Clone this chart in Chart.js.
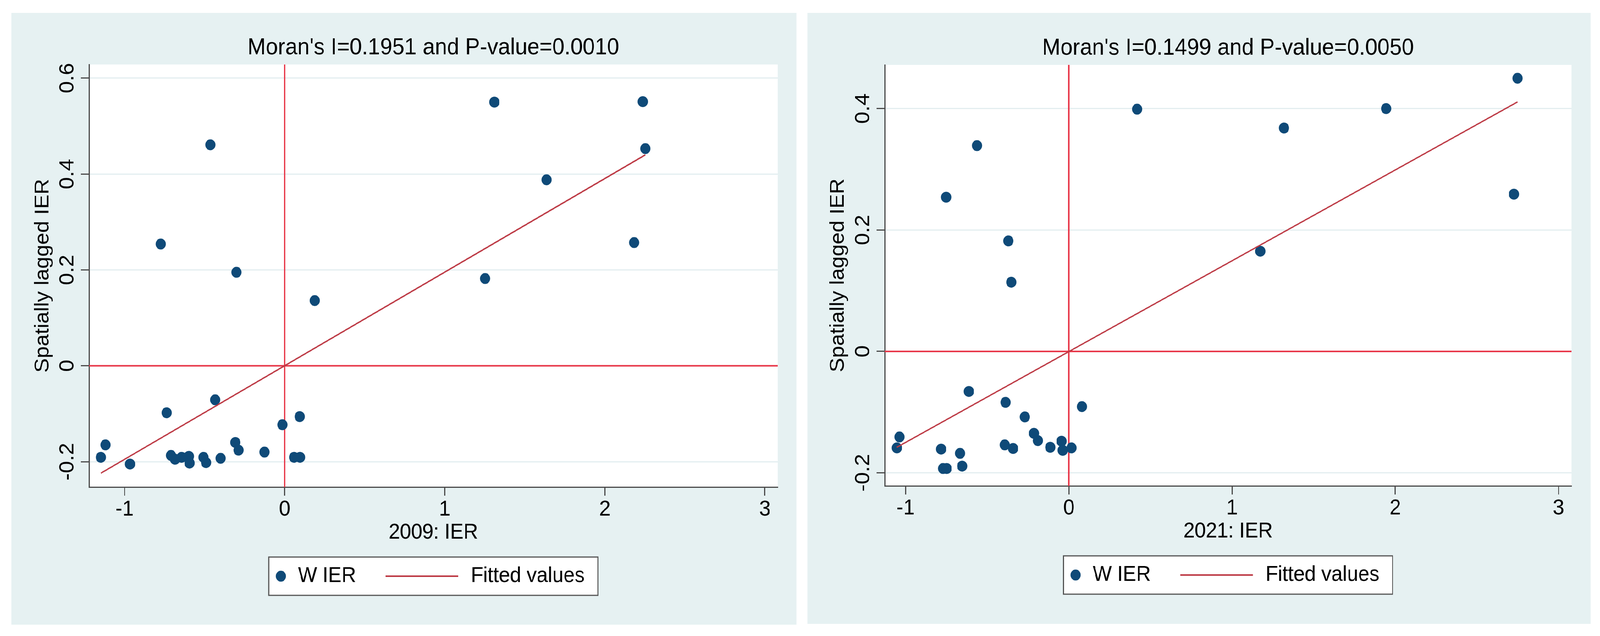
<!DOCTYPE html>
<html>
<head>
<meta charset="utf-8">
<script src="https://cdn.jsdelivr.net/npm/chart.js@4.4.1/dist/chart.umd.min.js"></script>
<style>
html,body{margin:0;padding:0;background:#ffffff;overflow:hidden;}
#wrap{position:absolute;left:0;top:0;width:4386px;height:1627px;transform-origin:0 0;background:#ffffff;}
.panel{position:absolute;background:#E6F1F2;}
#p1{left:31px;top:33px;width:2152px;height:1565px;}
#p2{left:2213px;top:33px;width:2147px;height:1563px;}
canvas{display:block;}
</style>
</head>
<body>
<div id="wrap">
<div class="panel" id="p1"><canvas id="c1"></canvas></div>
<div class="panel" id="p2"><canvas id="c2"></canvas></div>
</div>
<script>
// ---------- data: 2009 ----------
const ier2009 = [-1.148, -1.119, -0.966, -0.774, -0.737, -0.710, -0.685, -0.644, -0.598, -0.594,
                 -0.507, -0.491, -0.464, -0.434, -0.400, -0.308, -0.301, -0.288, -0.126, -0.014,
                  0.059,  0.096,  0.094,  0.188,  1.252,  1.310,  1.636,  2.183,  2.237,  2.253];
const wier2009 = [-0.191, -0.165, -0.205,  0.254, -0.098, -0.187, -0.195, -0.191, -0.189, -0.203,
                  -0.191, -0.202,  0.461, -0.071, -0.193, -0.160,  0.195, -0.176, -0.180, -0.123,
                  -0.191, -0.191, -0.106,  0.136,  0.182,  0.550,  0.388,  0.257,  0.551,  0.453];
const fitX2009 = [-1.148, 2.253];
const fitY2009 = [-0.224, 0.440];

// ---------- data: 2021 ----------
const ier2021 = [-1.054, -1.038, -0.783, -0.771, -0.749, -0.752, -0.667, -0.654, -0.613, -0.563,
                 -0.393, -0.388, -0.371, -0.353, -0.342, -0.270, -0.214, -0.190, -0.114, -0.045,
                 -0.038,  0.016,  0.080,  0.418,  1.173,  1.318,  1.944,  2.727,  2.749];
const wier2021 = [-0.159, -0.141, -0.161, -0.193, -0.193,  0.254, -0.168, -0.189, -0.066,  0.339,
                  -0.154, -0.084,  0.182,  0.114, -0.160, -0.108, -0.135, -0.147, -0.158, -0.148,
                  -0.163, -0.159, -0.091,  0.399,  0.165,  0.368,  0.400,  0.259,  0.450];
const fitX2021 = [-1.054, 2.749];
const fitY2021 = [-0.158, 0.411];

// ---------- ticks / text ----------
const xTicks = [-1, 0, 1, 2, 3];
const xTickLabels = ['-1', '0', '1', '2', '3'];
const yTicks2009 = [-0.2, 0, 0.2, 0.4, 0.6];
const yTickLabels2009 = ['-0.2', '0', '0.2', '0.4', '0.6'];
const yTicks2021 = [-0.2, 0, 0.2, 0.4];
const yTickLabels2021 = ['-0.2', '0', '0.2', '0.4'];
const title2009 = "Moran's I=0.1951 and P-value=0.0010";
const title2021 = "Moran's I=0.1499 and P-value=0.0050";
const xTitle2009 = '2009: IER';
const xTitle2021 = '2021: IER';
const yTitle = 'Spatially lagged IER';
const legendLabels = ['W IER', 'Fitted values'];

// ---------- styles ----------
const FONT = "'Liberation Sans', Arial, Helvetica, sans-serif";
const NAVY = '#0F4A78';
const MAROON = '#BD3A45';
const REFRED = '#E8384A';
const AXIS = '#4A4A4A';
const GRID = '#E3EEF0';

// fit the 4386x1627 design into whatever viewport is actually used
(function fitPage() {
  const vw = window.innerWidth || 4386;
  const vh = window.innerHeight || 1627;
  const sx = vw / 4386, sy = vh / 1627;
  document.getElementById('wrap').style.transform = 'scale(' + sx + ',' + sy + ')';
})();

const stataPlugin = {
  id: 'stata',
  beforeDraw(chart) {
    const {ctx, chartArea: a} = chart;
    ctx.save();
    ctx.fillStyle = '#ffffff';
    ctx.fillRect(a.left, a.top, a.right - a.left, a.bottom - a.top);
    ctx.restore();
  },
  beforeDatasetsDraw(chart) {
    const {ctx, chartArea: a, scales} = chart;
    const x0 = scales.x.getPixelForValue(0);
    const y0 = scales.y.getPixelForValue(0);
    ctx.save();
    ctx.strokeStyle = REFRED;
    ctx.lineWidth = 4;
    ctx.beginPath();
    ctx.moveTo(x0, a.top); ctx.lineTo(x0, a.bottom);
    ctx.moveTo(a.left, y0); ctx.lineTo(a.right, y0);
    ctx.stroke();
    ctx.restore();
  },
  afterDraw(chart, args, opts) {
    const {ctx, chartArea: a, scales} = chart;
    ctx.save();
    ctx.fillStyle = '#000';
    // title
    ctx.font = '60px ' + FONT;
    ctx.textAlign = 'center';
    ctx.textBaseline = 'middle';
    const cx = (a.left + a.right) / 2;
    ctx.fillText(opts.title, cx, a.top - 43);
    // rotated y tick labels
    ctx.font = '56px ' + FONT;
    const ys = scales.y;
    ys.ticks.forEach((t, i) => {
      const py = ys.getPixelForValue(t.value);
      ctx.save();
      ctx.translate(a.left - 43, py);
      ctx.rotate(-Math.PI / 2);
      ctx.textAlign = 'center';
      ctx.textBaseline = 'alphabetic';
      ctx.fillText(opts.yLabels[i], 0, 0);
      ctx.restore();
    });
    // legend
    const bw = 902, bh = 98;
    const bx = cx - bw / 2, by = a.bottom + 179;
    ctx.fillStyle = '#ffffff';
    ctx.fillRect(bx, by, bw, bh);
    ctx.strokeStyle = '#555';
    ctx.lineWidth = 3;
    ctx.strokeRect(bx, by, bw, bh);
    const my = by + bh / 2;
    ctx.fillStyle = NAVY;
    ctx.beginPath();
    ctx.arc(bx + 33, my, 14, 0, Math.PI * 2);
    ctx.fill();
    ctx.strokeStyle = MAROON;
    ctx.lineWidth = 4;
    ctx.beginPath();
    ctx.moveTo(bx + 320, my); ctx.lineTo(bx + 519, my);
    ctx.stroke();
    ctx.fillStyle = '#000';
    ctx.font = '55px ' + FONT;
    ctx.textAlign = 'left';
    ctx.textBaseline = 'middle';
    ctx.fillText(legendLabels[0], bx + 80, my);
    ctx.fillText(legendLabels[1], bx + 554, my);
    ctx.restore();
  }
};

function makeChart(cfg) {
  const canvas = document.getElementById(cfg.id);
  canvas.width = cfg.w;
  canvas.height = cfg.h;
  canvas.style.width = cfg.w + 'px';
  canvas.style.height = cfg.h + 'px';
  const pts = cfg.xs.map((x, i) => ({x: x, y: cfg.ys[i]}));
  const fit = cfg.fitX.map((x, i) => ({x: x, y: cfg.fitY[i]}));
  return new Chart(canvas, {
    type: 'scatter',
    data: {
      datasets: [
        {type: 'line', label: legendLabels[1], data: fit, borderColor: MAROON, borderWidth: 3.5,
         pointRadius: 0, fill: false, tension: 0, order: 0},
        {type: 'scatter', label: legendLabels[0], data: pts, backgroundColor: NAVY, borderWidth: 0,
         pointRadius: 14, pointHoverRadius: 14, order: 1}
      ]
    },
    options: {
      responsive: false,
      animation: false,
      devicePixelRatio: 1,
      layout: {padding: {left: 0, right: cfg.padR, top: cfg.padT, bottom: cfg.padB}},
      plugins: {
        legend: {display: false},
        title: {display: false},
        tooltip: {enabled: false},
        stata: {title: cfg.title, yLabels: cfg.yLabels}
      },
      scales: {
        x: {
          type: 'linear', min: cfg.xMin, max: cfg.xMax,
          afterBuildTicks: s => { s.ticks = xTicks.map(v => ({value: v})); },
          afterFit: s => { s.height = 150; },
          ticks: {callback: (v, i) => xTickLabels[i], font: {family: FONT, size: 56}, color: '#000',
                  padding: 2, maxRotation: 0, minRotation: 0, autoSkip: false},
          grid: {drawOnChartArea: false, drawTicks: true, tickLength: 22, tickColor: AXIS, tickWidth: 3},
          border: {display: true, color: AXIS, width: 3},
          title: {display: true, text: cfg.xTitle, font: {family: FONT, size: 55}, color: '#000',
                  padding: {top: 0, bottom: 0}}
        },
        y: {
          type: 'linear', min: cfg.yMin, max: cfg.yMax,
          afterBuildTicks: s => { s.ticks = cfg.yTicks.map(v => ({value: v})); },
          afterFit: s => { s.width = cfg.yW; },
          ticks: {display: false, callback: (v, i) => cfg.yLabels[i]},
          grid: {color: GRID, lineWidth: 3, drawTicks: true, tickLength: 22, tickColor: AXIS, tickWidth: 3},
          border: {display: true, color: AXIS, width: 3},
          title: {display: true, text: yTitle, font: {family: FONT, size: 55}, color: '#000',
                  padding: {top: cfg.yTitlePad, bottom: 0}}
        }
      }
    },
    plugins: [stataPlugin]
  });
}

makeChart({
  id: 'c1', w: 2152, h: 1565,
  xs: ier2009, ys: wier2009, fitX: fitX2009, fitY: fitY2009,
  xMin: -1.222, xMax: 3.080, yMin: -0.253, yMax: 0.6285,
  yTicks: yTicks2009, yLabels: yTickLabels2009,
  title: title2009, xTitle: xTitle2009,
  padR: 51, padT: 132, padB: 202, yW: 213, yTitlePad: 54
});
makeChart({
  id: 'c2', w: 2147, h: 1563,
  xs: ier2021, ys: wier2021, fitX: fitX2021, fitY: fitY2021,
  xMin: -1.129, xMax: 3.080, yMin: -0.2216, yMax: 0.472,
  yTicks: yTicks2021, yLabels: yTickLabels2021,
  title: title2021, xTitle: xTitle2021,
  padR: 52, padT: 133, padB: 203, yW: 212, yTitlePad: 52
});
</script>
</body>
</html>
